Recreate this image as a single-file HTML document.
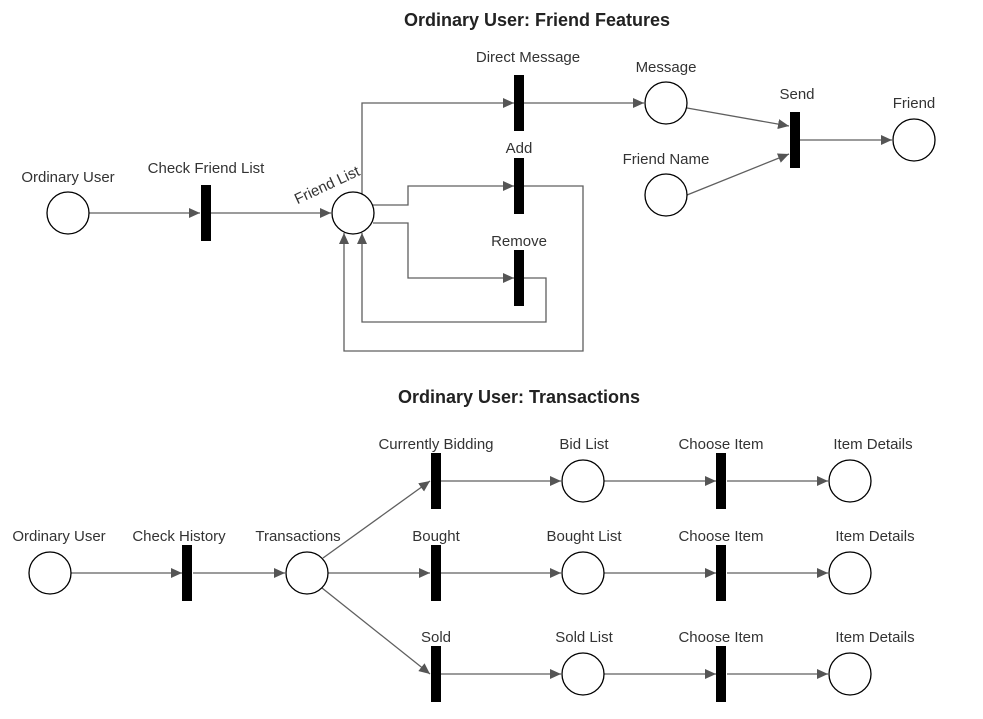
<!DOCTYPE html>
<html><head><meta charset="utf-8"><style>
html,body{margin:0;padding:0;background:#fff;}
svg{display:block;}
text{font-family:"Liberation Sans",Arial,sans-serif;font-size:15px;fill:#333;}
.t{font-weight:bold;font-size:18px;fill:#222;}
.l{fill:none;stroke:#5f5f5f;stroke-width:1.3;}
.c{fill:#fff;stroke:#000;stroke-width:1.3;}
</style></head><body>
<svg width="983" height="719" viewBox="0 0 983 719">
<defs><marker id="a" markerWidth="11" markerHeight="10" refX="11" refY="5" orient="auto" markerUnits="userSpaceOnUse"><path d="M0,0 L11,5 L0,10 z" fill="#555"/></marker></defs>
<text class="t" x="537" y="26" text-anchor="middle">Ordinary User: Friend Features</text>
<text class="t" x="519" y="403" text-anchor="middle">Ordinary User: Transactions</text>

<path class="l" marker-end="url(#a)" d="M89,213 H200"/>
<path class="l" marker-end="url(#a)" d="M211,213 H331"/>
<path class="l" marker-end="url(#a)" d="M362,200 V103 H514"/>
<path class="l" marker-end="url(#a)" d="M524,103 H644"/>
<path class="l" marker-end="url(#a)" d="M373,205 H408 V186 H514"/>
<path class="l" marker-end="url(#a)" d="M373,223 H408 V278 H514"/>
<path class="l" marker-end="url(#a)" d="M524,186 H583 V351 H344 V233"/>
<path class="l" marker-end="url(#a)" d="M524,278 H546 V322 H362 V233"/>
<path class="l" marker-end="url(#a)" d="M687,108 L789,126"/>
<path class="l" marker-end="url(#a)" d="M687,195 L789,154"/>
<path class="l" marker-end="url(#a)" d="M800,140 H892"/>

<rect x="201" y="185" width="10" height="56" fill="#000"/>
<rect x="514" y="75" width="10" height="56" fill="#000"/>
<rect x="514" y="158" width="10" height="56" fill="#000"/>
<rect x="514" y="250" width="10" height="56" fill="#000"/>
<rect x="790" y="112" width="10" height="56" fill="#000"/>
<circle class="c" cx="68" cy="213" r="21"/>
<circle class="c" cx="353" cy="213" r="21"/>
<circle class="c" cx="666" cy="103" r="21"/>
<circle class="c" cx="666" cy="195" r="21"/>
<circle class="c" cx="914" cy="140" r="21"/>

<text x="68" y="182" text-anchor="middle">Ordinary User</text>
<text x="206" y="173" text-anchor="middle">Check Friend List</text>
<text x="327" y="190" text-anchor="middle" transform="rotate(-25 327 185)">Friend List</text>
<text x="528" y="62" text-anchor="middle">Direct Message</text>
<text x="519" y="153" text-anchor="middle">Add</text>
<text x="519" y="246" text-anchor="middle">Remove</text>
<text x="666" y="72" text-anchor="middle">Message</text>
<text x="666" y="164" text-anchor="middle">Friend Name</text>
<text x="797" y="99" text-anchor="middle">Send</text>
<text x="914" y="108" text-anchor="middle">Friend</text>

<path class="l" marker-end="url(#a)" d="M71,573 H182"/>
<path class="l" marker-end="url(#a)" d="M193,573 H285"/>
<path class="l" marker-end="url(#a)" d="M323,558 L430,481"/>
<path class="l" marker-end="url(#a)" d="M328,573 H430"/>
<path class="l" marker-end="url(#a)" d="M322,588 L430,674"/>
<g>
<path class="l" marker-end="url(#a)" d="M441,481 H561"/>
<path class="l" marker-end="url(#a)" d="M604,481 H716"/>
<path class="l" marker-end="url(#a)" d="M727,481 H828"/>
<path class="l" marker-end="url(#a)" d="M441,573 H561"/>
<path class="l" marker-end="url(#a)" d="M604,573 H716"/>
<path class="l" marker-end="url(#a)" d="M727,573 H828"/>
<path class="l" marker-end="url(#a)" d="M441,674 H561"/>
<path class="l" marker-end="url(#a)" d="M604,674 H716"/>
<path class="l" marker-end="url(#a)" d="M727,674 H828"/>
</g>
<rect x="182" y="545" width="10" height="56" fill="#000"/>
<rect x="431" y="453" width="10" height="56" fill="#000"/>
<rect x="431" y="545" width="10" height="56" fill="#000"/>
<rect x="431" y="646" width="10" height="56" fill="#000"/>
<rect x="716" y="453" width="10" height="56" fill="#000"/>
<rect x="716" y="545" width="10" height="56" fill="#000"/>
<rect x="716" y="646" width="10" height="56" fill="#000"/>
<circle class="c" cx="50" cy="573" r="21"/>
<circle class="c" cx="307" cy="573" r="21"/>
<circle class="c" cx="583" cy="481" r="21"/>
<circle class="c" cx="583" cy="573" r="21"/>
<circle class="c" cx="583" cy="674" r="21"/>
<circle class="c" cx="850" cy="481" r="21"/>
<circle class="c" cx="850" cy="573" r="21"/>
<circle class="c" cx="850" cy="674" r="21"/>

<text x="59" y="541" text-anchor="middle">Ordinary User</text>
<text x="179" y="541" text-anchor="middle">Check History</text>
<text x="298" y="541" text-anchor="middle">Transactions</text>
<text x="436" y="449" text-anchor="middle">Currently Bidding</text>
<text x="436" y="541" text-anchor="middle">Bought</text>
<text x="436" y="642" text-anchor="middle">Sold</text>
<text x="584" y="449" text-anchor="middle">Bid List</text>
<text x="584" y="541" text-anchor="middle">Bought List</text>
<text x="584" y="642" text-anchor="middle">Sold List</text>
<text x="721" y="449" text-anchor="middle">Choose Item</text>
<text x="721" y="541" text-anchor="middle">Choose Item</text>
<text x="721" y="642" text-anchor="middle">Choose Item</text>
<text x="873" y="449" text-anchor="middle">Item Details</text>
<text x="875" y="541" text-anchor="middle">Item Details</text>
<text x="875" y="642" text-anchor="middle">Item Details</text>
</svg>
</body></html>
